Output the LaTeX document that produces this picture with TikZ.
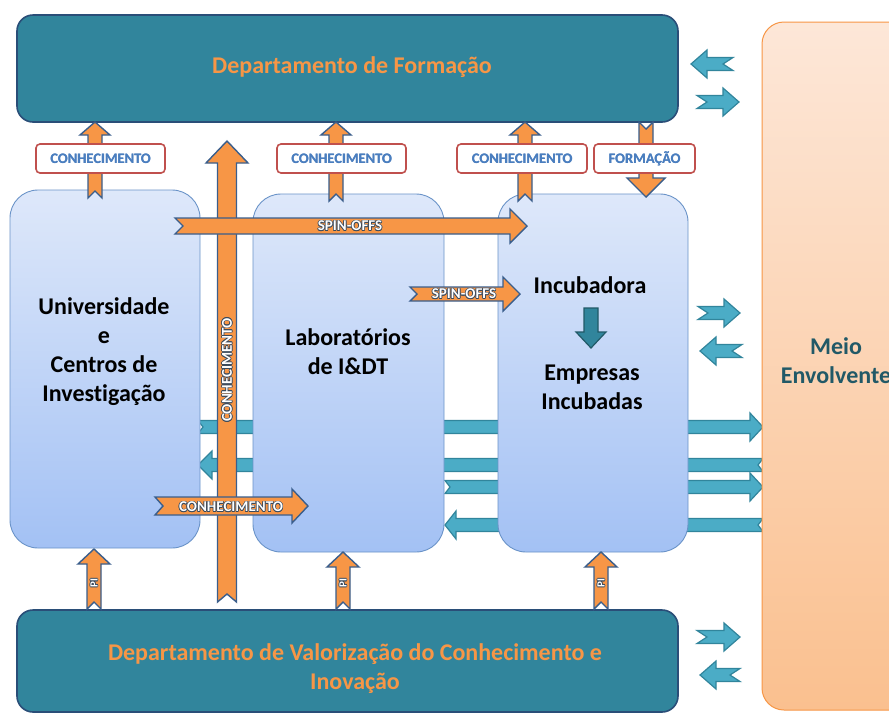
\documentclass[tikz,border=0pt]{standalone}
\usepackage{fontspec}
\setmainfont{Carlito}[Ligatures=NoCommon]
\definecolor{deptfill}{HTML}{31859C}
\definecolor{deptline}{HTML}{2A4E78}
\definecolor{orfill}{HTML}{F79646}
\definecolor{orline}{HTML}{3A5E8C}
\definecolor{tealfill}{HTML}{4BACC6}
\definecolor{tealline}{HTML}{31859C}
\definecolor{lblline}{HTML}{C0504D}
\definecolor{lbltxt}{HTML}{4A7EBF}
\definecolor{boxtop}{HTML}{DEE8FA}
\definecolor{boxbot}{HTML}{A3C1F4}
\definecolor{boxline}{HTML}{6A93C8}
\definecolor{meiotop}{HTML}{FDE7D8}
\definecolor{meiobot}{HTML}{FAC08F}
\definecolor{meioline}{HTML}{F79646}
\definecolor{meiotxt}{HTML}{215967}
\definecolor{txtol}{HTML}{3A4A5C}
\definecolor{darkarrow}{HTML}{215967}
% white text with a dark outline
\newcommand\ow[1]{{\setbox0\hbox{#1}%
 \rlap{\color{txtol}\raisebox{0.7pt}{\copy0}}%
 \rlap{\color{txtol}\raisebox{-0.7pt}{\copy0}}%
 \rlap{\color{txtol}\hspace{0.7pt}\copy0}%
 \rlap{\color{txtol}\hspace{-0.7pt}\copy0}%
 \rlap{\color{txtol}\hspace{0.5pt}\raisebox{0.5pt}{\copy0}}%
 \rlap{\color{txtol}\hspace{-0.5pt}\raisebox{-0.5pt}{\copy0}}%
 \rlap{\color{txtol}\hspace{0.5pt}\raisebox{-0.5pt}{\copy0}}%
 \rlap{\color{txtol}\hspace{-0.5pt}\raisebox{0.5pt}{\copy0}}%
 \color{white}\box0}}
% bold-looking label text (slight double print)
\newcommand\hv[1]{{\setbox0\hbox{#1}\rlap{\hspace{0.35pt}\copy0}\box0}}
% block arrow: #1 style, #2 tail point, #3 angle, #4 length, #5 shaft half, #6 head half, #7 head length, #8 notch depth
\newcommand\blockarrow[8]{%
  \path[#1, shift={#2}, rotate=#3] (0,-#5) -- ({#4-#7},-#5) -- ({#4-#7},-#6) -- (#4,0)
    -- ({#4-#7},#6) -- ({#4-#7},#5) -- (0,#5) -- (#8,0) -- cycle;}
\begin{document}
\begin{tikzpicture}[x=1pt,y=-1pt,
  dept/.style={draw=deptline, line width=1.6pt, fill=deptfill, rounded corners=16pt},
  deptxt/.style={text=orfill, font=\fontsize{24}{29}\selectfont\bfseries, align=center},
  bluebox/.style={draw=boxline, line width=0.9pt, top color=boxtop, bottom color=boxbot, rounded corners=28pt},
  meiobox/.style={draw=meioline, line width=1pt, top color=meiotop, bottom color=meiobot, rounded corners=22pt},
  blktxt/.style={text=black, font=\fontsize{24}{29}\selectfont\bfseries, align=center},
  meiotext/.style={text=meiotxt, font=\fontsize{24}{29}\selectfont\bfseries, align=center},
  lblbox/.style={draw=lblline, line width=1.6pt, fill=white, rounded corners=4pt, minimum height=29pt,
    text=lbltxt, font=\fontsize{14.5}{15}\selectfont\bfseries, inner sep=0pt},
  orarrow/.style={fill=orfill, draw=orline, line width=1.4pt, line join=miter},
  tealarrow/.style={fill=tealfill, draw=tealline, line width=1.2pt, line join=miter},
  darrow/.style={fill=deptfill, draw=darkarrow, line width=1.2pt},
  wlbl/.style={font=\fontsize{15}{15}\selectfont\bfseries, inner sep=0pt},
  pilbl/.style={font=\fontsize{11}{11}\selectfont\bfseries, inner sep=0pt}]
\useasboundingbox (0,0) rectangle (889,713);
\clip (0,0) rectangle (889,713);
\fill[white] (0,0) rectangle (889,713);

% long teal arrows behind the boxes
\blockarrow{tealarrow}{(198,427)}{0}{565}{6.5}{14}{13}{5}
\blockarrow{tealarrow}{(763,465)}{180}{565}{6.5}{14}{14}{5}
\blockarrow{tealarrow}{(445,487)}{0}{318}{6.5}{14}{13}{5}
\blockarrow{tealarrow}{(763,525)}{180}{318}{6.5}{14}{11}{5}

% main boxes
\node[bluebox, minimum width=190pt, minimum height=358pt] (univ) at (105,369) {};
\node[bluebox, minimum width=191pt, minimum height=358pt] (lab) at (348.5,373) {};
\node[bluebox, minimum width=190pt, minimum height=358pt] (incub) at (593,373) {};
\node[meiobox, minimum width=158pt, minimum height=688pt] (meio) at (841,366) {};
\node[dept, minimum width=661pt, minimum height=107pt] (formacao) at (347.5,68.5) {};
\node[dept, minimum width=661pt, minimum height=102pt] (valor) at (347.5,661) {};

% texts
\node[deptxt] (tform) at (352,67) {Departamento de Formação};
\node[deptxt] (tvalor) at (355,669) {Departamento de Valorização do Conhecimento e\\Inovação};
\node[blktxt] (tuniv) at (104,352) {Universidade\\e\\Centros de\\Investigação};
\node[blktxt] (tlab) at (348,352) {Laboratórios\\de I\&DT};
\node[blktxt] (tinc) at (590,285) {Incubadora};
\node[blktxt] (temp) at (592,387) {Empresas\\Incubadas};
\node[meiotext] (tmeio) at (836,361) {Meio\\Envolvente};

% vertical big arrow
\blockarrow{orarrow}{(227,602)}{90}{461}{9.5}{21}{22}{8}
\node[wlbl, rotate=90] (vcon) at (227,370) {\ow{CONHECIMENTO}};

% up/down small orange arrows to the top department
\blockarrow{orarrow}{(95,198)}{90}{76}{7}{15}{13}{7}
\blockarrow{orarrow}{(336,201)}{90}{79}{7}{15}{13}{7}
\blockarrow{orarrow}{(525,201)}{90}{79}{7}{15}{13}{7}
\blockarrow{orarrow}{(646,122)}{-90}{75}{7}{19}{19}{7}

% label boxes
\node[lblbox, minimum width=129pt] (l1) at (100.5,158.5) {\hv{CONHECIMENTO}};
\node[lblbox, minimum width=129pt] (l2) at (341.5,158.5) {\hv{CONHECIMENTO}};
\node[lblbox, minimum width=130pt] (l3) at (522,158.5) {\hv{CONHECIMENTO}};
\node[lblbox, minimum width=101pt] (l4) at (644.5,158.5) {\hv{FORMAÇÃO}};

% spin-offs arrows
\blockarrow{orarrow}{(175,226)}{0}{352}{8}{17}{17}{8}
\node[wlbl] (tspin1) at (350,226) {\ow{SPIN-OFFS}};
\blockarrow{orarrow}{(410,294)}{0}{110}{7}{17}{17}{7}
\node[wlbl] (tspin2) at (464,294) {\ow{SPIN-OFFS}};

% bottom conhecimento arrow
\blockarrow{orarrow}{(155,506)}{0}{153}{9}{17}{16}{8}
\node[wlbl] (tcon2) at (231,507) {\ow{CONHECIMENTO}};

% PI arrows
\blockarrow{orarrow}{(94,609)}{90}{60}{7}{16}{15}{7}
\blockarrow{orarrow}{(343,609)}{90}{57}{7}{16}{15}{7}
\blockarrow{orarrow}{(601,609)}{90}{57}{7}{16}{15}{7}
\node[pilbl, rotate=90] (pi1) at (94,583) {\ow{PI}};
\node[pilbl, rotate=90] (pi2) at (343,583) {\ow{PI}};
\node[pilbl, rotate=90] (pi3) at (601,583) {\ow{PI}};

% incubadora inner arrow
\blockarrow{darrow}{(591,308)}{-90}{40}{7}{15}{16}{0}

% small teal arrows next to the environment
\blockarrow{tealarrow}{(733,64)}{180}{42}{6.5}{14}{16}{10}
\blockarrow{tealarrow}{(697,102)}{0}{42}{6.5}{14}{16}{10}
\blockarrow{tealarrow}{(698,313)}{0}{42}{6.5}{14}{16}{10}
\blockarrow{tealarrow}{(742,351)}{180}{42}{6.5}{14}{16}{10}
\blockarrow{tealarrow}{(697,637)}{0}{43}{6.5}{14}{16}{10}
\blockarrow{tealarrow}{(740,675)}{180}{40}{6.5}{14}{16}{10}
\end{tikzpicture}
\end{document}
